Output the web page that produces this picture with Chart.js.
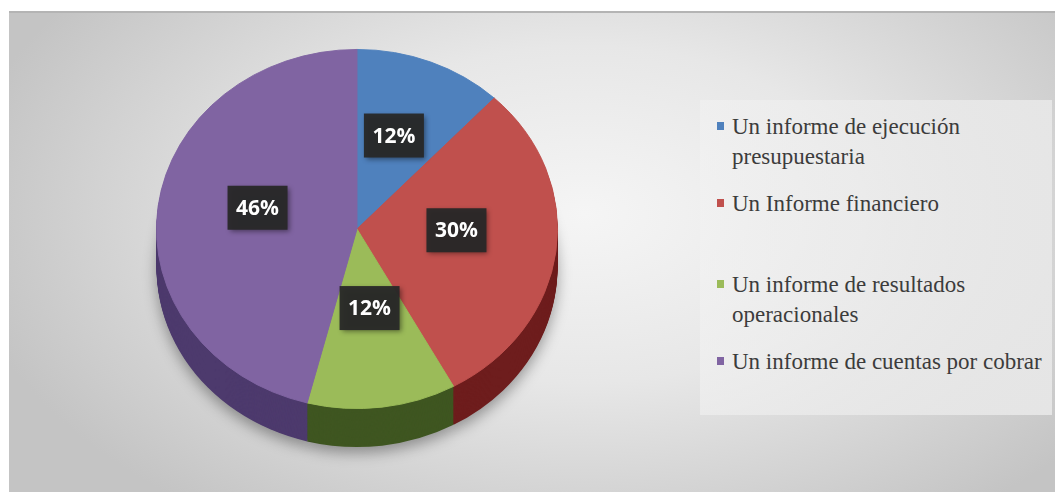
<!DOCTYPE html>
<html>
<head>
<meta charset="utf-8">
<script src="https://cdn.jsdelivr.net/npm/chart.js@4.4.1/dist/chart.umd.min.js"></script>
<style>
  html, body { margin: 0; padding: 0; background: #fff; }
  #wrap { position: relative; width: 1055px; height: 497px; overflow: hidden; }
  #panel {
    position: absolute; left: 9px; top: 11px; width: 1046px; height: 481px;
    background: radial-gradient(ellipse 60% 78% at 55% 42%, #f5f5f5 0%, #e7e7e7 45%, #c4c4c4 100%);
    border-top: 2px solid #b4b4b4;
    box-sizing: border-box;
  }
  #legendBox {
    position: absolute; left: 700px; top: 100px; width: 352px; height: 315px;
    background: linear-gradient(to right, rgba(242,242,242,0.6), rgba(232,232,232,0.9));
  }
  #legend { position: absolute; left: 0; top: 0; }
  .item {
    position: absolute; left: 732px;
    font-family: "Liberation Serif", "Times New Roman", serif;
    font-size: 23px; line-height: 30px; color: #3c3c3c; white-space: nowrap;
  }
  .item .box { position: absolute; left: -15px; top: 10px; width: 7px; height: 8px; }
  #chartBox { position: absolute; left: 0; top: 0; width: 714px; height: 497px; }
</style>
</head>
<body>
<div id="wrap">
  <div id="panel"></div>
  <div id="legendBox"></div>
  <div id="chartBox"><canvas id="pie"></canvas></div>
  <div id="legend"></div>
</div>
<script>
  // categories and shares (percent)
  const categorias = [
    ["Un informe de ejecución", "presupuestaria"],
    ["Un Informe financiero"],
    ["Un informe de resultados", "operacionales"],
    ["Un informe de cuentas por cobrar"]
  ];
  const porcentajes = [12, 30, 12, 46];

  const colores = ["#4f81bd", "#c0504d", "#9bbb59", "#8064a2"];
  const coloresLado = ["#2e4d73", "#6e1d1d", "#3f5621", "#4d3a6d"];

  // legend layout (top of each entry)
  const legendTops = [112, 189, 270, 347];

  const legend = document.getElementById("legend");
  categorias.forEach((lineas, i) => {
    const div = document.createElement("div");
    div.className = "item";
    div.style.top = legendTops[i] + "px";
    const sq = document.createElement("span");
    sq.className = "box";
    sq.style.background = colores[i];
    div.appendChild(sq);
    lineas.forEach((t, j) => {
      if (j > 0) div.appendChild(document.createElement("br"));
      div.appendChild(document.createTextNode(t));
    });
    legend.appendChild(div);
  });

  const escalaY = 0.8955;   // tilt of the pie
  const grosor = 38;        // side height in px
  const elevacion = 10;     // labels sit a bit higher, like the tilted top face

  const pie3d = {
    id: "pie3d",
    beforeDatasetsDraw(chart) {
      const ctx = chart.ctx;
      const arcs = chart.getDatasetMeta(0).data;
      const cx = arcs[0].x, cy = arcs[0].y;
      ctx.save();
      ctx.translate(cx, cy);
      ctx.scale(1, escalaY);
      ctx.translate(-cx, -cy);
      const d = Math.ceil(grosor / escalaY);
      for (let i = d; i >= 1; i--) {
        ctx.save();
        if (i === d) {
          ctx.shadowColor = "rgba(0,0,0,0.35)";
          ctx.shadowBlur = 14;
          ctx.shadowOffsetY = 6;
        }
        arcs.forEach((a, k) => {
          ctx.beginPath();
          ctx.moveTo(a.x, a.y + i);
          ctx.arc(a.x, a.y + i, a.outerRadius, a.startAngle, a.endAngle);
          ctx.closePath();
          ctx.fillStyle = coloresLado[k];
          ctx.fill();
        });
        ctx.restore();
      }
    },
    afterDatasetsDraw(chart) {
      const ctx = chart.ctx;
      ctx.restore();
      const arcs = chart.getDatasetMeta(0).data;
      const cy = arcs[0].y;
      arcs.forEach((a, k) => {
        const p = a.tooltipPosition();
        const x = p.x;
        const y = cy + (p.y - cy) * escalaY - elevacion;
        const w = 60, h = 44;
        ctx.save();
        ctx.shadowColor = "rgba(0,0,0,0.45)";
        ctx.shadowBlur = 5;
        ctx.shadowOffsetX = 2;
        ctx.shadowOffsetY = 2;
        ctx.fillStyle = "rgba(40,40,40,0.95)";
        ctx.fillRect(x - w / 2, y - h / 2, w, h);
        ctx.restore();
        ctx.save();
        ctx.fillStyle = "#ffffff";
        ctx.font = "bold 21px 'Open Sans', sans-serif";
        ctx.textAlign = "center";
        ctx.textBaseline = "middle";
        ctx.fillText(porcentajes[k] + "%", x, y + 1);
        ctx.restore();
      });
    }
  };

  new Chart(document.getElementById("pie"), {
    type: "pie",
    data: {
      labels: categorias.map(l => l.join(" ")),
      datasets: [{
        data: porcentajes,
        backgroundColor: colores,
        borderColor: colores,
        borderWidth: 1,
        clip: false
      }]
    },
    options: {
      responsive: true,
      maintainAspectRatio: false,
      animation: false,
      events: [],
      layout: { padding: { top: 28, bottom: 67, left: 0, right: 0 } },
      plugins: {
        legend: { display: false },
        tooltip: { enabled: false }
      }
    },
    plugins: [pie3d]
  });
</script>
</body>
</html>
